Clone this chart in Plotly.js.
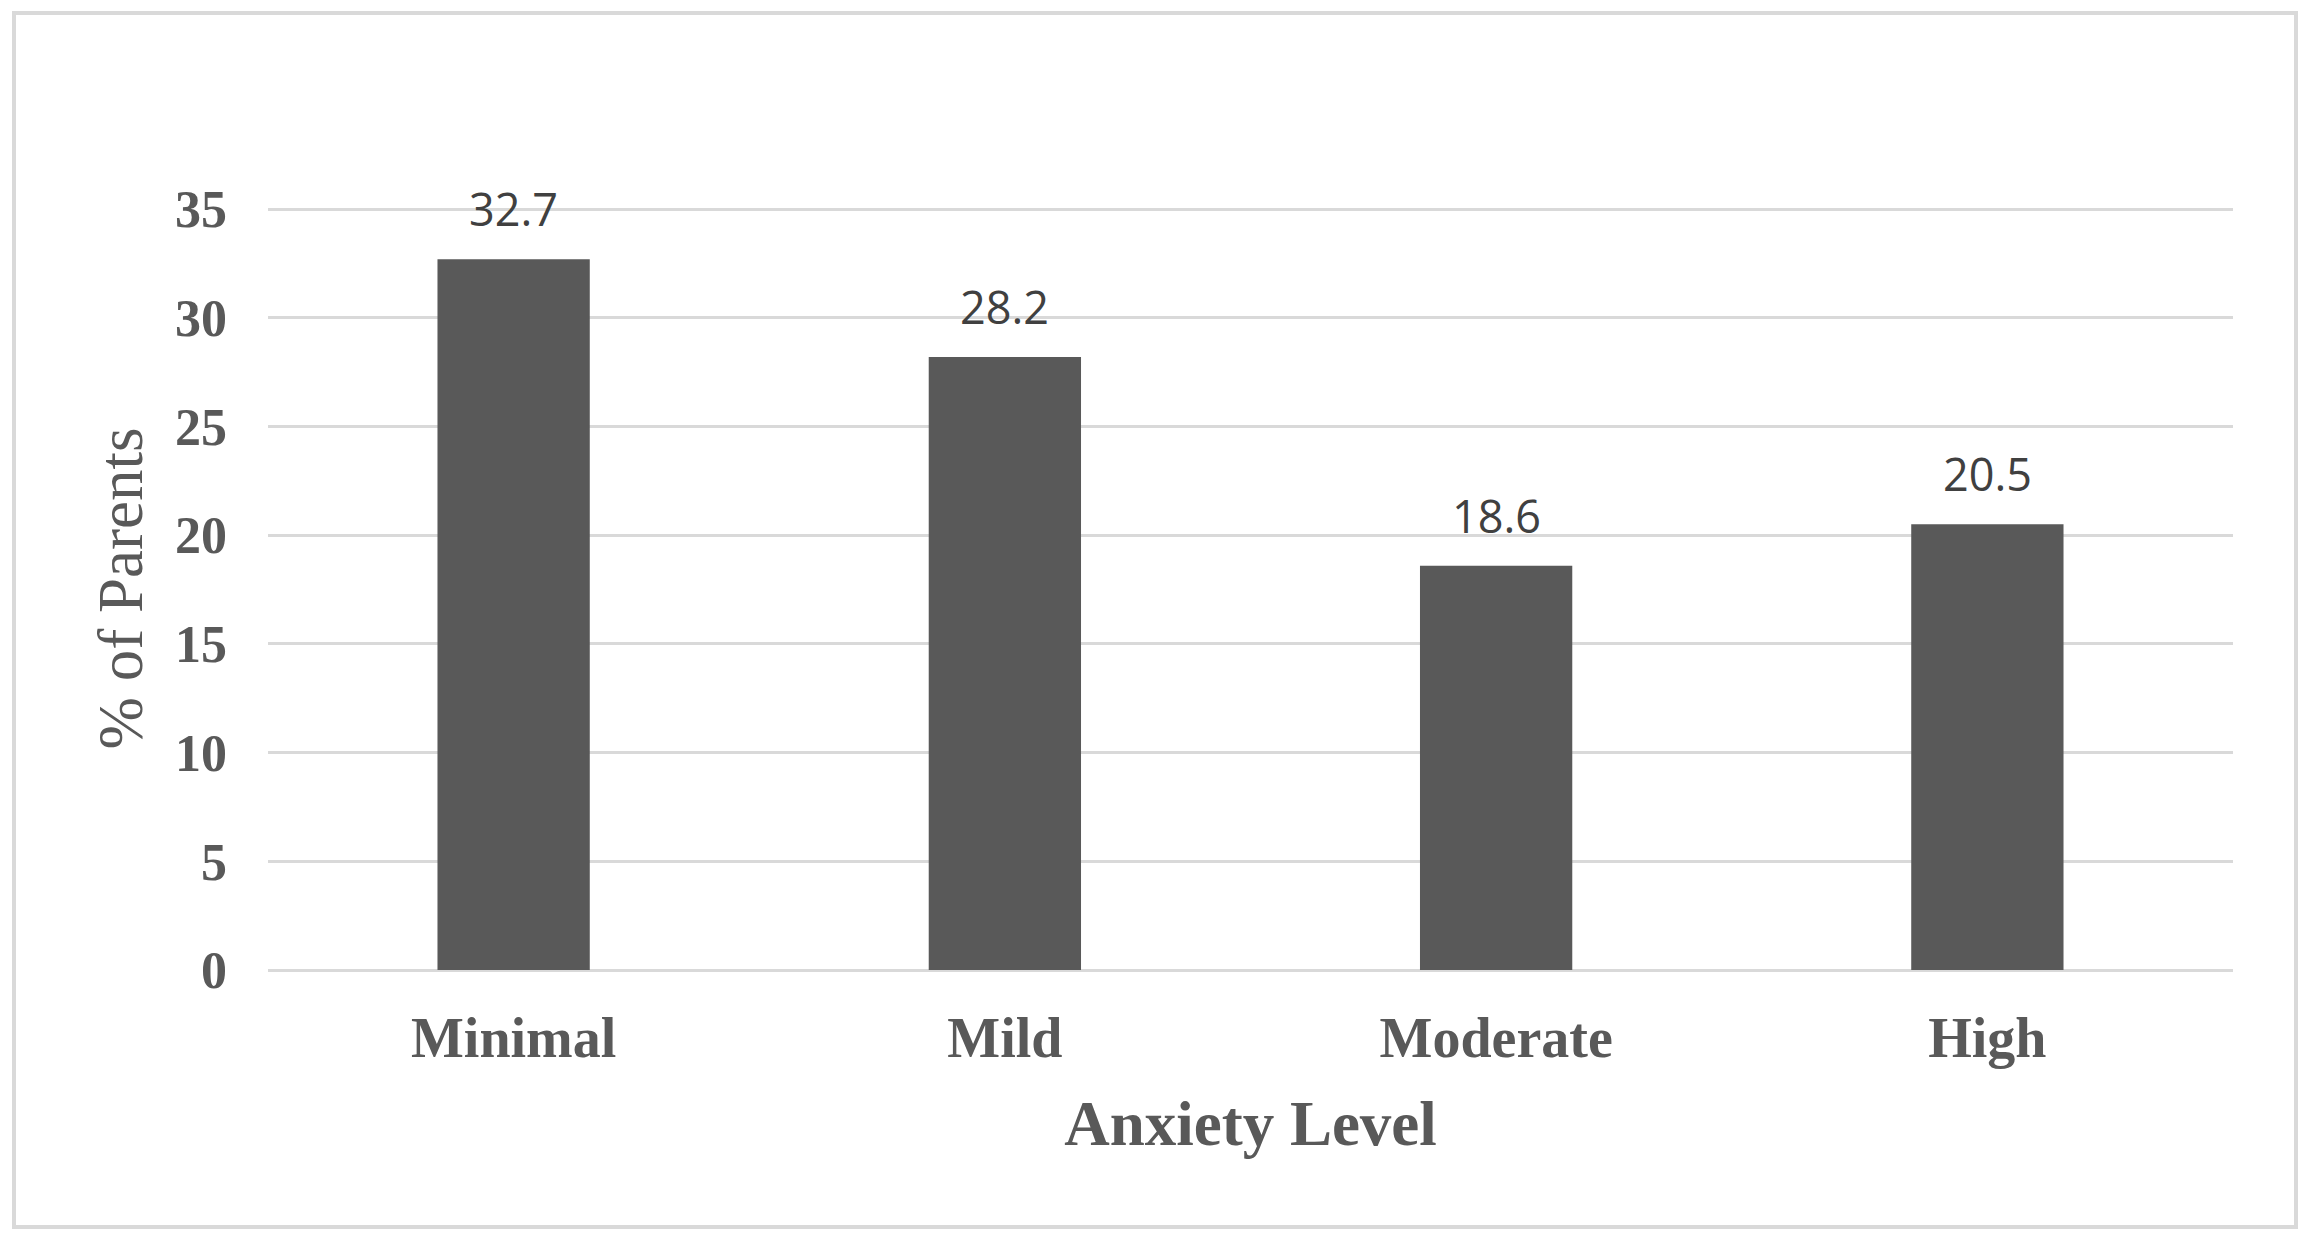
<!DOCTYPE html>
<html>
<head>
<meta charset="utf-8">
<script src="https://cdn.plot.ly/plotly-3.0.1.min.js"></script>
<style>
  html, body { margin: 0; padding: 0; background: #ffffff; }
  #chart { width: 2311px; height: 1238px; }
</style>
</head>
<body>
<div id="chart"></div>
<script>
// ---- Data ----
const categories = ["Minimal", "Mild", "Moderate", "High"];
const percentParents = [32.7, 28.2, 18.6, 20.5];
const yTickValues = [0, 5, 10, 15, 20, 25, 30, 35];
const xAxisTitle = "Anxiety Level";
const yAxisTitle = "% of Parents";

// ---- Layout constants ----
const W = 2311, H = 1238;
const M = { l: 268, r: 78, t: 207, b: 268 };
const plotW = W - M.l - M.r, plotH = H - M.t - M.b;
const px2paperX = px => (px - M.l) / plotW;
const px2paperY = py => (H - M.b - py) / plotH;

const serif = "Liberation Serif, Times New Roman, serif";
const grey = "#595959";

const barTrace = {
  type: "bar",
  x: categories,
  y: percentParents,
  marker: { color: grey, line: { width: 0 } },
  hoverinfo: "x+y",
  showlegend: false
};

const valueLabels = categories.map((c, i) => ({
  x: c,
  y: percentParents[i],
  xref: "x",
  yref: "y",
  text: percentParents[i].toFixed(1),
  showarrow: false,
  yanchor: "bottom",
  yshift: 18,
  font: { family: "Open Sans, Liberation Sans, sans-serif", size: 45, color: "#404040" }
}));

const layout = {
  width: W,
  height: H,
  margin: M,
  paper_bgcolor: "#ffffff",
  plot_bgcolor: "#ffffff",
  bargap: 0.69,
  showlegend: false,
  xaxis: {
    type: "category",
    automargin: false,
    showgrid: false,
    showline: false,
    zeroline: false,
    ticks: "",
    ticklabelstandoff: 30,
    tickfont: { family: serif, size: 56, color: grey, weight: "bold" },
    title: {
      text: xAxisTitle,
      standoff: 32,
      font: { family: serif, size: 63, color: grey, weight: "bold" }
    }
  },
  yaxis: {
    range: [0, 35.1],
    tickvals: yTickValues,
    automargin: false,
    showgrid: true,
    gridcolor: "#d9d9d9",
    gridwidth: 3,
    zeroline: true,
    zerolinecolor: "#d9d9d9",
    zerolinewidth: 3,
    showline: false,
    ticks: "",
    ticklabelstandoff: 40,
    tickfont: { family: serif, size: 52, color: grey, weight: "bold" },
    title: {
      text: yAxisTitle,
      standoff: 11,
      font: { family: serif, size: 63, color: grey }
    }
  },
  annotations: valueLabels,
  shapes: [{
    type: "rect",
    xref: "paper", yref: "paper",
    x0: px2paperX(14), x1: px2paperX(2296),
    y0: px2paperY(1227), y1: px2paperY(13),
    line: { color: "#d9d9d9", width: 4 },
    fillcolor: "rgba(0,0,0,0)",
    layer: "below"
  }]
};

Plotly.newPlot("chart", [barTrace], layout, { displayModeBar: false, responsive: false });
</script>
</body>
</html>
